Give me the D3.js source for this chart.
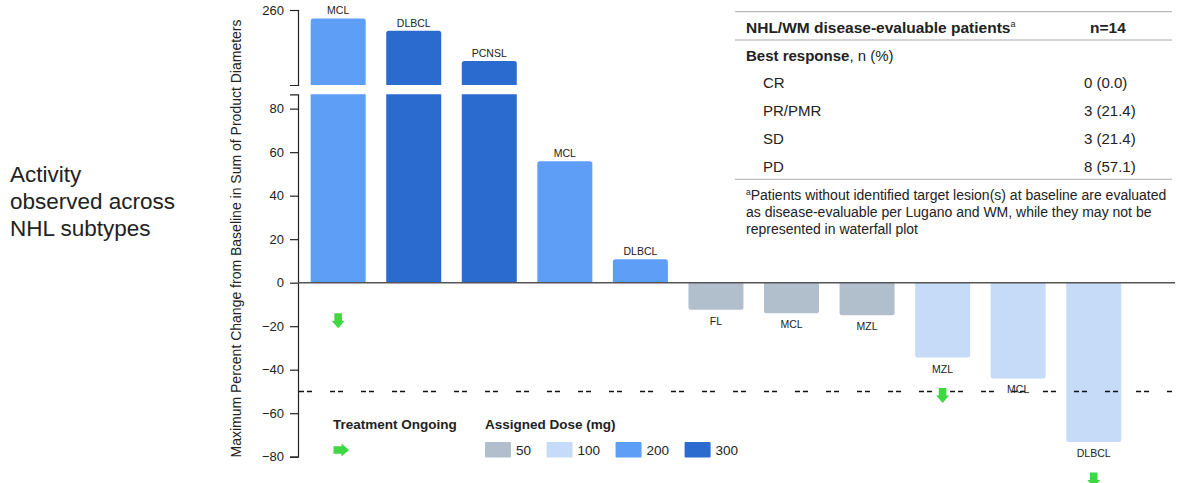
<!DOCTYPE html>
<html>
<head>
<meta charset="utf-8">
<script src="https://cdn.jsdelivr.net/npm/d3@7"></script>
<style>
  html, body { margin: 0; padding: 0; background: #fff; }
  svg { display: block; font-family: "Liberation Sans", Arial, Helvetica, sans-serif; }
</style>
</head>
<body>
<svg id="chart" width="1178" height="483"></svg>
<script>
// Waterfall: best percent change per patient, ordered by response
const subtypes  = ["MCL", "DLBCL", "PCNSL", "MCL", "DLBCL", "FL", "MCL", "MZL", "MZL", "MCL", "DLBCL"];
const pctChange = [242, 216, 151, 55.8, 10.8, -12.4, -14, -15, -34.4, -44, -73.2];
const doseMg    = [200, 300, 300, 200, 200, 50, 50, 50, 100, 100, 100];
const ongoing   = [true, false, false, false, false, false, false, false, true, false, true];

// Dose legend
const doseLevels = [50, 100, 200, 300];
const doseColors = ["#b1bfcc", "#c5dbf8", "#5f9ef6", "#2b6bd0"];

// Axis ticks (broken axis: lower and upper segments)
const lowerTicks = [80, 60, 40, 20, 0, -20, -40, -60, -80];
const upperTicks = [260];
const lowerMax = 86.6;   // top of lower segment
const upperMin = 100;    // bottom of upper segment
const threshold = -50;   // PR threshold line

// Response table
const responseCats = ["CR", "PR/PMR", "SD", "PD"];
const responseN = [0, 3, 3, 8];
const totalN = 14;

const svg = d3.select("#chart");
const ink = "#222";
const color = d3.scaleOrdinal().domain(doseLevels).range(doseColors);

// Scales
const yLow = d3.scaleLinear().domain([-80, lowerMax]).range([456.7, 94.3]);
const yUp  = d3.scaleLinear().domain([upperMin, 260]).range([85, 10]);
const x = d3.scaleBand().domain(d3.range(subtypes.length))
  .range([300.4, 1131.5]).paddingInner(0.272).paddingOuter(0.136);
const axisX = 298;

// Left caption
const cap = svg.append("text").attr("x", 10).attr("font-size", 22.5).attr("fill", ink);
["Activity", "observed across", "NHL subtypes"].forEach((t, i) =>
  cap.append("tspan").attr("x", 10).attr("y", 181.5 + i * 27).text(t));

// Y axis title
svg.append("text")
  .attr("transform", "translate(241,238.5) rotate(-90)")
  .attr("text-anchor", "middle").attr("font-size", 14).attr("fill", ink)
  .text("Maximum Percent Change from Baseline in Sum of Product Diameters");

// Axes
function styleAxis(g) {
  g.selectAll("path, line").attr("stroke", ink).attr("stroke-width", 1.2);
  g.selectAll("text").attr("font-size", 13).attr("fill", ink)
    .attr("font-family", "'Liberation Sans', Arial, sans-serif");
}
svg.append("g").attr("transform", `translate(${axisX},0)`)
  .call(d3.axisLeft(yLow).tickValues(lowerTicks).tickSize(8).tickPadding(6).tickFormat(d3.format("d")))
  .call(styleAxis);
svg.append("g").attr("transform", `translate(${axisX},0)`)
  .call(d3.axisLeft(yUp).tickValues(upperTicks).tickSize(8).tickPadding(6))
  .call(styleAxis);

// Bar path with rounded outer end
function barPath(x0, w, yA, yB, roundTop, roundBottom) {
  const r = 2.5;
  const top = Math.min(yA, yB), bot = Math.max(yA, yB);
  const p = d3.path();
  if (roundTop) {
    p.moveTo(x0, bot); p.lineTo(x0, top + r);
    p.quadraticCurveTo(x0, top, x0 + r, top);
    p.lineTo(x0 + w - r, top);
    p.quadraticCurveTo(x0 + w, top, x0 + w, top + r);
    p.lineTo(x0 + w, bot); p.closePath();
  } else if (roundBottom) {
    p.moveTo(x0, top); p.lineTo(x0 + w, top);
    p.lineTo(x0 + w, bot - r);
    p.quadraticCurveTo(x0 + w, bot, x0 + w - r, bot);
    p.lineTo(x0 + r, bot);
    p.quadraticCurveTo(x0, bot, x0, bot - r);
    p.closePath();
  } else {
    p.rect(x0, top, w, bot - top);
  }
  return p.toString();
}

const bars = svg.append("g");
const w = x.bandwidth();
subtypes.forEach((s, i) => {
  const v = pctChange[i];
  const x0 = x(i);
  const fill = color(doseMg[i]);
  if (v > lowerMax) {
    bars.append("path").attr("d", barPath(x0, w, yLow(lowerMax), yLow(0), false, false)).attr("fill", fill);
    bars.append("path").attr("d", barPath(x0, w, yUp(v), yUp(upperMin), true, false)).attr("fill", fill);
  } else if (v >= 0) {
    bars.append("path").attr("d", barPath(x0, w, yLow(v), yLow(0), true, false)).attr("fill", fill);
  } else {
    bars.append("path").attr("d", barPath(x0, w, yLow(0), yLow(v), false, true)).attr("fill", fill);
  }
});

// Zero line and threshold line
svg.append("line").attr("x1", axisX).attr("x2", 1175)
  .attr("y1", yLow(0)).attr("y2", yLow(0)).attr("stroke", "#555").attr("stroke-width", 1.5);
svg.append("line").attr("x1", axisX + 1).attr("x2", 1175)
  .attr("y1", yLow(threshold)).attr("y2", yLow(threshold))
  .attr("stroke", "#111").attr("stroke-width", 1.5).attr("stroke-dasharray", "5,3,5,18");

// Subtype labels
const labels = svg.append("g").attr("font-size", 10.5).attr("fill", ink).attr("text-anchor", "middle");
subtypes.forEach((s, i) => {
  const v = pctChange[i];
  const cx = x(i) + w / 2;
  const yTop = v > lowerMax ? yUp(v) : yLow(v);
  labels.append("text").attr("x", cx)
    .attr("y", v >= 0 ? yTop - 4 : yLow(v) + 15).text(s);
});

// Treatment-ongoing arrows
const green = "#3fd843";
function downArrow(cx, cy) {
  return `M${cx - 3.8},${cy - 7.5}H${cx + 3.8}V${cy}H${cx + 6.5}L${cx},${cy + 7.5}L${cx - 6.5},${cy}H${cx - 3.8}Z`;
}
function rightArrow(cx, cy) {
  return `M${cx - 8},${cy - 3.8}V${cy + 3.8}H${cx}V${cy + 6.5}L${cx + 7.5},${cy}L${cx},${cy - 6.5}V${cy - 3.8}Z`;
}
subtypes.forEach((s, i) => {
  if (!ongoing[i]) return;
  const v = pctChange[i];
  const base = v < 0 ? yLow(v) : yLow(0);
  svg.append("path").attr("d", downArrow(x(i) + w / 2, base + 38)).attr("fill", green);
});

// Legend
const leg = svg.append("g").attr("fill", ink);
leg.append("text").attr("x", 333).attr("y", 429).attr("font-size", 13.5).attr("font-weight", "bold")
  .text("Treatment Ongoing");
leg.append("path").attr("d", rightArrow(341.5, 450)).attr("fill", green);
leg.append("text").attr("x", 485).attr("y", 429).attr("font-size", 13.5).attr("font-weight", "bold")
  .text("Assigned Dose (mg)");
let lx = 485;
doseLevels.forEach((d) => {
  leg.append("rect").attr("x", lx).attr("y", 442).attr("width", 26).attr("height", 15.5)
    .attr("rx", 1).attr("fill", color(d));
  const t = leg.append("text").attr("x", lx + 31).attr("y", 455).attr("font-size", 13.5).text(d);
  lx += 31 + t.node().getComputedTextLength() + 15.5;
});

// Response table
const tbl = svg.append("g").attr("fill", ink);
[11.7, 40, 179.3].forEach(yy =>
  tbl.append("line").attr("x1", 735).attr("x2", 1172).attr("y1", yy).attr("y2", yy)
    .attr("stroke", "#aaa").attr("stroke-width", 1));
const hdr = tbl.append("text").attr("x", 746).attr("y", 33).attr("font-size", 15.5).attr("font-weight", "bold");
hdr.append("tspan").text("NHL/WM disease-evaluable patients");
hdr.append("tspan").attr("font-size", 9).attr("font-weight", "normal").attr("dy", -6).text("a");
tbl.append("text").attr("x", 1090).attr("y", 33).attr("font-size", 15.5).attr("font-weight", "bold")
  .text(`n=${totalN}`);
const br = tbl.append("text").attr("x", 746).attr("y", 61).attr("font-size", 15);
br.append("tspan").attr("font-weight", "bold").text("Best response");
br.append("tspan").text(", n (%)");
responseCats.forEach((c, i) => {
  const yy = 88.3 + i * 27.9;
  tbl.append("text").attr("x", 763).attr("y", yy).attr("font-size", 15).text(c);
  tbl.append("text").attr("x", 1084).attr("y", yy).attr("font-size", 15)
    .text(`${responseN[i]} (${(responseN[i] / totalN * 100).toFixed(1)})`);
});
const notes = [
  "Patients without identified target lesion(s) at baseline are evaluated",
  "as disease-evaluable per Lugano and WM, while they may not be",
  "represented in waterfall plot"
];
notes.forEach((n, i) => {
  const t = tbl.append("text").attr("x", 746).attr("y", 200 + i * 17).attr("font-size", 14);
  if (i === 0) t.append("tspan").attr("font-size", 8.5).attr("dy", -5).text("a");
  t.append("tspan").attr("dy", i === 0 ? 5 : 0).text(n);
});
</script>
</body>
</html>
